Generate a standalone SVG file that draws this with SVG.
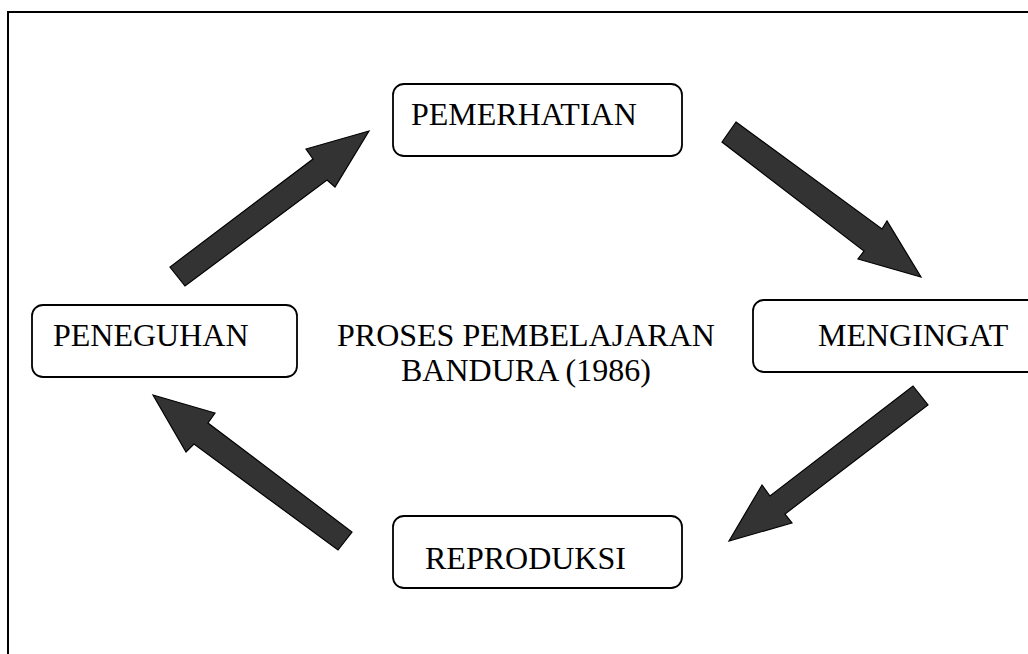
<svg xmlns="http://www.w3.org/2000/svg" width="1028" height="654" viewBox="0 0 1028 654">
<style>
.frame{fill:#fff;stroke:#000;stroke-width:2}
.box{fill:#fff;stroke:#000;stroke-width:1.8}
.lbl{font-family:"Liberation Serif","Times New Roman",serif;font-size:32px;fill:#000}
.arr{fill:#333;stroke:#000;stroke-width:1.2;stroke-linejoin:miter}
</style>
<rect x="0" y="0" width="1028" height="654" fill="#fff"/>
<rect class="frame" x="8" y="12" width="1040" height="660"/>
<g id="connectors">
<polygon class="arr" points="369,131 306,149 313,159 170,267 185,286 327,180 335,187"/>
<polygon class="arr" points="736,122 882,229 887,221 921,277 858,259 864,251 722,142"/>
<polygon class="arr" points="913,386 928,405 785,514 792,523 729,541 762,485 770,496"/>
<polygon class="arr" points="153,395 215,413 208,423 352,532 338,550 194,444 186,452"/>
</g>
<g id="pemerhatian">
<rect class="box" x="393" y="84" width="289" height="72" rx="11"/>
<text class="lbl" x="411" y="125">PEMERHATIAN</text>
</g>
<g id="mengingat">
<rect class="box" x="753" y="300" width="300" height="72" rx="11"/>
<text class="lbl" x="818" y="346">MENGINGAT</text>
</g>
<g id="reproduksi">
<rect class="box" x="393" y="516" width="289" height="72" rx="11"/>
<text class="lbl" x="425" y="569">REPRODUKSI</text>
</g>
<g id="peneguhan">
<rect class="box" x="32" y="305" width="265" height="72" rx="11"/>
<text class="lbl" x="53" y="346">PENEGUHAN</text>
</g>
<g id="title">
<text class="lbl" x="337" y="346">PROSES PEMBELAJARAN</text>
<text class="lbl" x="401" y="381">BANDURA (1986)</text>
</g>
</svg>
